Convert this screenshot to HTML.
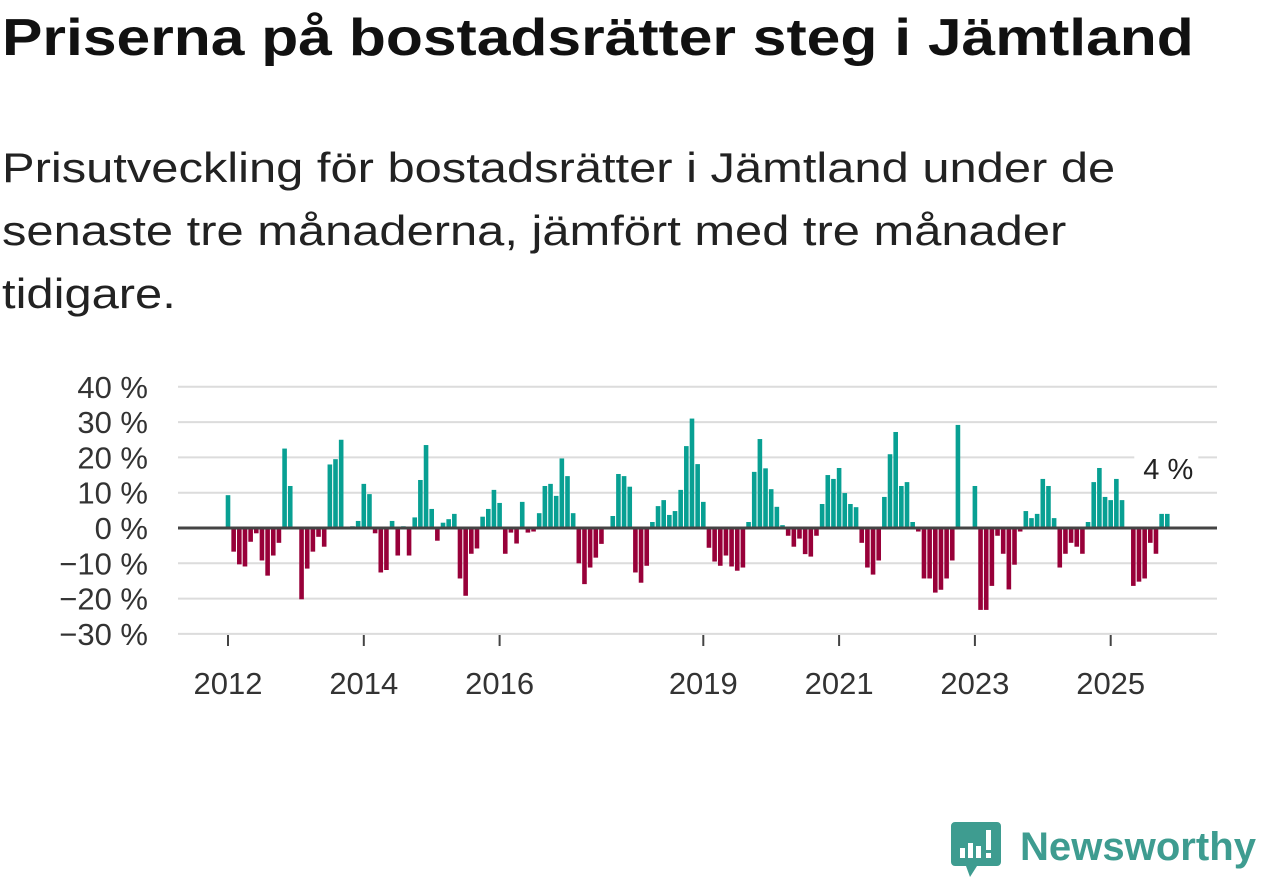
<!DOCTYPE html>
<html><head><meta charset="utf-8">
<style>
body{margin:0;width:1262px;height:879px;background:#fff;overflow:hidden;font-family:"Liberation Sans",sans-serif;color:#111;position:relative}
#title{position:absolute;left:2px;top:8px;font-size:52px;font-weight:bold;margin:0;white-space:nowrap;transform:scaleX(1.165);transform-origin:0 0}
#sub{position:absolute;left:2px;top:136px;font-size:42px;line-height:63px;margin:0;color:#222;white-space:nowrap;transform:scaleX(1.163);transform-origin:0 0}
svg{position:absolute;left:0;top:0}
</style></head><body>
<h1 id="title">Priserna på bostadsrätter steg i Jämtland</h1>
<p id="sub">Prisutveckling för bostadsrätter i Jämtland under de<br>senaste tre månaderna, jämfört med tre månader<br>tidigare.</p>
<svg id="chart" width="1262" height="879">
<g id="grid"></g><g id="bars"></g><g id="axes"></g>
<g>
<path d="M955 822 h42 a4 4 0 0 1 4 4 v36 a4 4 0 0 1 -4 4 h-20 l-7 11 l-4 -11 h-11 a4 4 0 0 1 -4 -4 v-36 a4 4 0 0 1 4 -4z" fill="#3e9c90"/>
<rect x="960" y="848" width="5" height="10" fill="#fff"/><rect x="968" y="843" width="5" height="15" fill="#fff"/><rect x="976" y="846" width="5" height="12" fill="#fff"/><rect x="986" y="830" width="5" height="20" fill="#fff"/><rect x="986" y="853" width="5" height="5" fill="#fff"/>
<text x="1020" y="860" font-size="40" font-weight="bold" fill="#3e9c90" font-family="Liberation Sans, sans-serif" textLength="236" lengthAdjust="spacingAndGlyphs">Newsworthy</text>
</g>
</svg>
<script>
const startYear = 2012;
const values = [9.3,-6.7,-10.3,-10.9,-3.9,-1.5,-9.2,-13.5,-7.8,-4.2,22.5,11.9,
0,-20.2,-11.5,-6.7,-2.5,-5.3,18,19.5,25,0,0.5,2,
12.5,9.6,-1.5,-12.6,-11.9,2,-7.8,0.5,-7.8,3,13.6,23.5,
5.4,-3.6,1.5,2.5,4,-14.3,-19.2,-7.3,-5.8,3.2,5.4,10.8,
7.1,-7.3,-1.3,-4.4,7.4,-1.3,-1,4.2,11.9,12.5,9.1,19.7,
14.7,4.2,-10,-15.9,-11.2,-8.4,-4.5,0,3.4,15.3,14.7,11.7,
-12.6,-15.5,-10.7,1.7,6.2,7.9,3.7,4.8,10.8,23.2,31,18.1,
7.4,-5.6,-9.5,-10.7,-7.8,-10.9,-12.1,-11.2,1.7,15.9,25.2,16.9,
11,6,0.8,-2.2,-5.3,-3,-7.4,-8.1,-2.2,6.8,15,13.9,
17,9.9,6.8,5.9,-4.2,-11.2,-13.2,-9.2,8.8,20.9,27.2,11.9,
13,1.7,-1,-14.3,-14.3,-18.3,-17.5,-14.3,-9.2,29.2,0,0,
11.9,-23.2,-23.2,-16.4,-2.2,-7.3,-17.4,-10.4,-1,4.8,2.8,4,
13.9,11.9,2.8,-11.2,-7.3,-4.2,-5.3,-7.3,1.7,13,17,8.8,
7.9,13.9,7.9,0,-16.4,-15.2,-14.3,-4.2,-7.3,4,4];
const yTicks = [40,30,20,10,0,-10,-20,-30];
const xTickYears = [2012,2014,2016,2019,2021,2023,2025];
const lastLabel = "4 %";

const NS="http://www.w3.org/2000/svg";
const x0=228, perYear=67.9, y0=528, perPct=3.53;
const xs = m => x0 + m*perYear/12;
const ys = v => y0 - v*perPct;
function mk(t,a,p){const e=document.createElementNS(NS,t);for(const k in a)e.setAttribute(k,a[k]);p.appendChild(e);return e;}
const grid=document.getElementById('grid'),bars=document.getElementById('bars'),axes=document.getElementById('axes');
yTicks.forEach(v=>{
  if(v!==0){const l=mk('line',{x1:178,x2:1217,y1:ys(v),y2:ys(v),stroke:'#dcdcdc','stroke-width':2},grid);
  
  }
  const t=mk('text',{x:148,y:ys(v)+11,'font-size':31,'text-anchor':'end',fill:'#333','font-family':'Liberation Sans, sans-serif'},axes);
  t.textContent=(v<0?'\u2212'+(-v):v)+' %';
  
  
});
values.forEach((v,i)=>{
  if(v===0)return;
  const x=xs(i)-2.3;
  const r=mk('rect',{x:x,width:4.6,y:Math.min(ys(v),y0),height:Math.abs(ys(v)-y0),fill:v>0?'#08a093':'#980039'},bars);
  
  
});
const zl=mk('line',{x1:178,x2:1217,y1:y0,y2:y0,stroke:'#444','stroke-width':3},axes);


xTickYears.forEach(yr=>{
  const x=xs((yr-startYear)*12);
  const tk=mk('line',{x1:x,x2:x,y1:635,y2:646,stroke:'#444','stroke-width':2},axes);
  
  
  const t=mk('text',{x:x,y:694,'font-size':31,'text-anchor':'middle',fill:'#333','font-family':'Liberation Sans, sans-serif'},axes);
  t.textContent=yr;
  
  
});
const li=values.length-1;
const lx=xs(li)+1, ly=ys(values[li])-35;
const bg=mk('rect',{x:lx-34,y:ly-24,width:64,height:32,fill:'#fff'},axes);


const lt=mk('text',{x:lx,y:ly,'font-size':29,'text-anchor':'middle',fill:'#222','font-family':'Liberation Sans, sans-serif'},axes);
lt.textContent=lastLabel;


</script>
</body></html>
